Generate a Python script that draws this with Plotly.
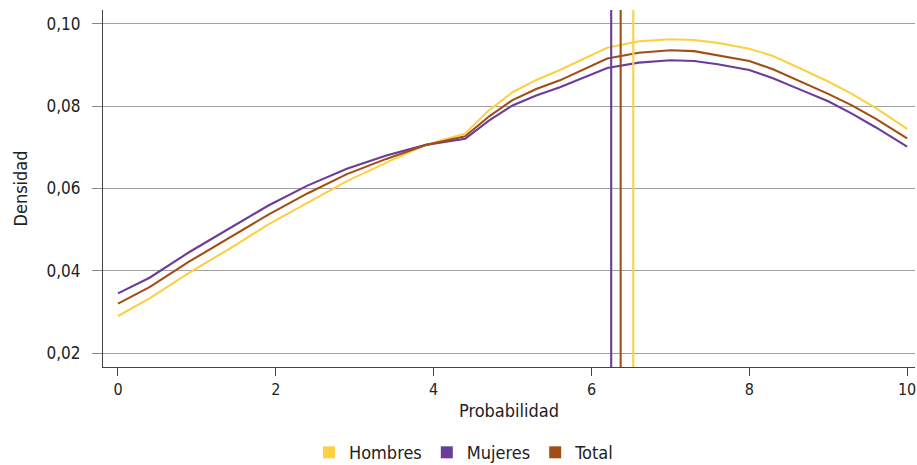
import plotly.graph_objects as go

x = [0, 0.4, 0.9, 1.4, 1.9, 2.4, 2.9, 3.4, 3.9, 4.4, 4.7, 5.0, 5.3, 5.6, 5.9,
     6.2, 6.6, 7.0, 7.3, 7.6, 8.0, 8.3, 8.6, 9.0, 9.3, 9.6, 10.0]

mujeres = [0.0345, 0.0383, 0.0445, 0.0502, 0.0558, 0.0607, 0.0648, 0.0680, 0.0706,
           0.0721, 0.0765, 0.0802, 0.0826, 0.0846, 0.0870, 0.0893, 0.0906, 0.0912,
           0.0910, 0.0902, 0.0888, 0.0868, 0.0844, 0.0812, 0.0782, 0.0749, 0.0702]

total = [0.0320, 0.0360, 0.0422, 0.0478, 0.0536, 0.0588, 0.0635, 0.0672, 0.0706,
         0.0727, 0.0775, 0.0815, 0.0842, 0.0863, 0.0889, 0.0916, 0.0930, 0.0936,
         0.0934, 0.0924, 0.0910, 0.0890, 0.0864, 0.0830, 0.0802, 0.0770, 0.0722]

hombres = [0.0290, 0.0333, 0.0395, 0.0452, 0.0512, 0.0565, 0.0618, 0.0663, 0.0706,
           0.0734, 0.0790, 0.0834, 0.0864, 0.0888, 0.0914, 0.0942, 0.0958, 0.0963,
           0.0961, 0.0954, 0.0940, 0.0922, 0.0896, 0.0860, 0.0830, 0.0796, 0.0745]

series_names = ["Hombres", "Mujeres", "Total"]
colors = {"Hombres": "#FDD043", "Mujeres": "#6A3D9A", "Total": "#A14E16"}
means = {"Mujeres": 6.25, "Total": 6.37, "Hombres": 6.53}
data = {"Hombres": hombres, "Mujeres": mujeres, "Total": total}

FONT = "DejaVu Sans Condensed, Liberation Sans Narrow, Roboto, sans-serif"

fig = go.Figure()

for name in series_names:
    fig.add_trace(go.Scatter(x=x, y=data[name], mode="lines", name=name,
                             line=dict(color=colors[name], width=2.1),
                             showlegend=False))

for name in ["Mujeres", "Total", "Hombres"]:
    fig.add_shape(type="line", xref="x", yref="paper", x0=means[name], x1=means[name],
                  y0=0, y1=1, line=dict(color=colors[name], width=2.1))

for name in series_names:
    fig.add_trace(go.Scatter(x=[None], y=[None], mode="markers", name=name,
                             marker=dict(symbol="square", size=16, color=colors[name])))

fig.update_layout(
    width=917, height=465,
    margin=dict(l=103, r=2, t=10, b=98, autoexpand=False),
    plot_bgcolor="white", paper_bgcolor="white",
    separators=",.",
    font=dict(family=FONT, size=17, color="#222222"),
    legend=dict(orientation="h", xref="container", x=0.506, xanchor="center",
                y=-0.188, yanchor="top",
                font=dict(size=18), itemsizing="constant", traceorder="normal",
                itemwidth=30),
    xaxis=dict(range=[-0.19, 10.1], tickvals=[0, 2, 4, 6, 8, 10], showgrid=False,
               showline=True, linecolor="#444444", linewidth=1.2,
               ticks="outside", ticklen=8, tickcolor="#444444", automargin=False,
               tickfont=dict(size=16),
               title=dict(text="Probabilidad", font=dict(size=18), standoff=6),
               zeroline=False),
    yaxis=dict(range=[0.0166, 0.1034], tickvals=[0.02, 0.04, 0.06, 0.08, 0.10],
               tickformat=".2f", showgrid=True, gridcolor="#A0A0A0", gridwidth=1,
               showline=True, linecolor="#444444", linewidth=1.2,
               ticks="outside", ticklen=10, tickcolor="#888888", automargin=False,
               ticklabelstandoff=8,
               title=dict(text="Densidad", font=dict(size=18), standoff=14),
               zeroline=False),
)

fig.write_html("out.html", config={"displayModeBar": False},
               post_script="document.body.style.margin='0';document.body.style.overflow='hidden';")
